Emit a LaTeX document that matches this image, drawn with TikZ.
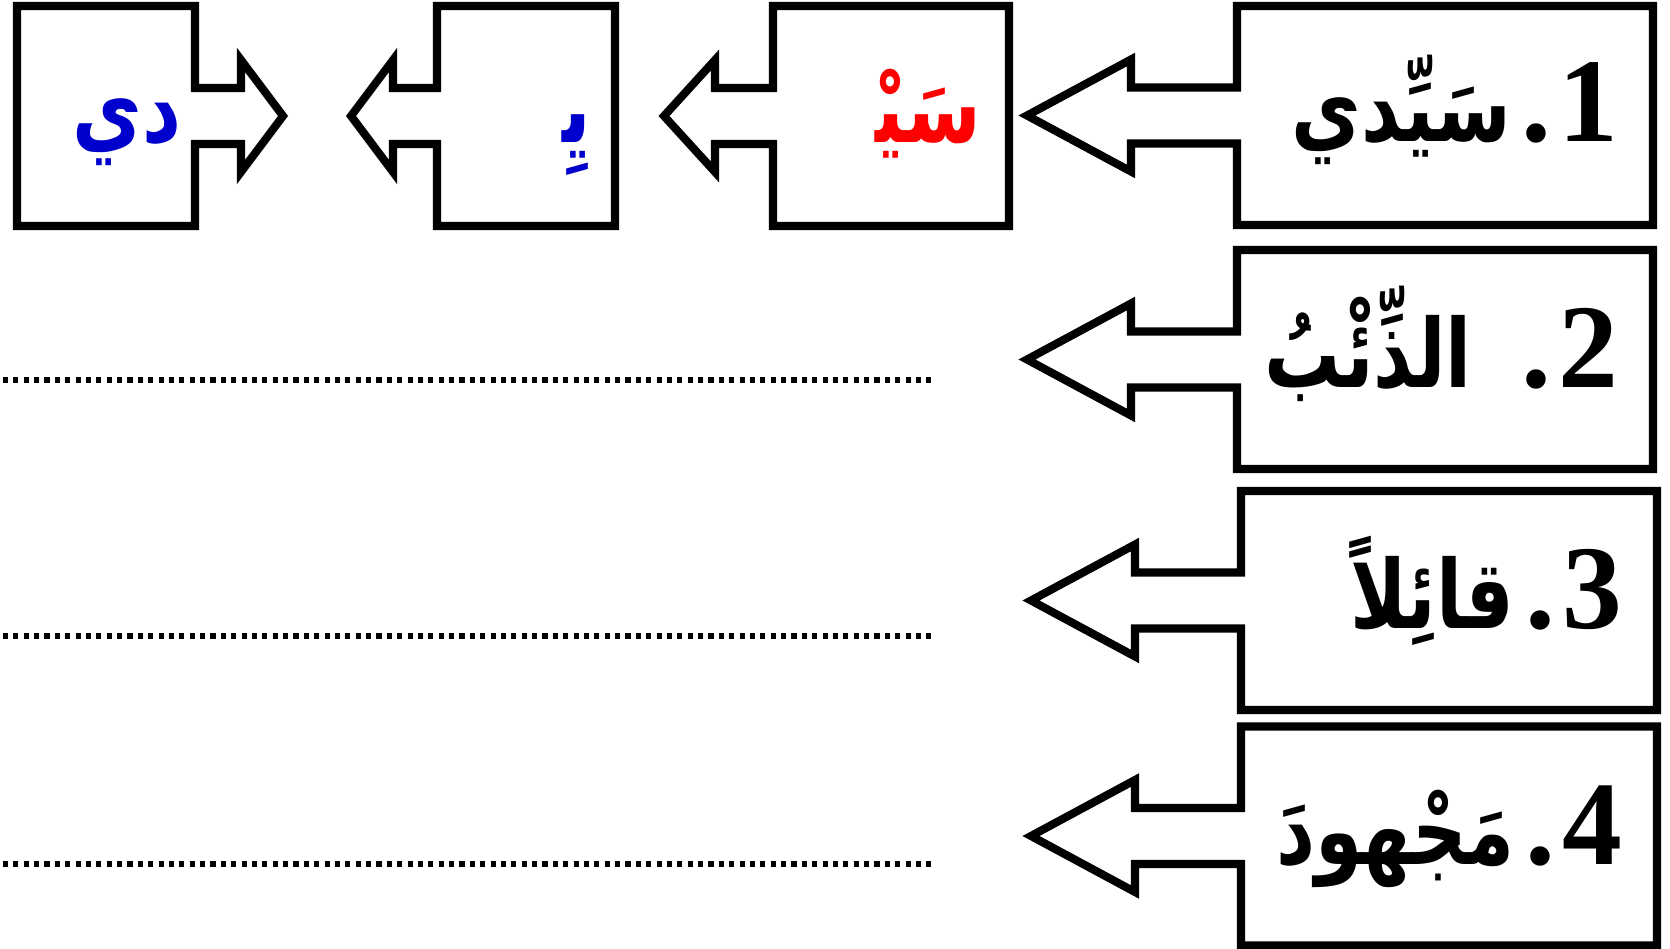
\documentclass[tikz,border=0pt]{standalone}
\usepackage{fontspec}
\setmainfont{Liberation Serif}[BoldFont={Liberation Serif Bold}]
\newfontfamily\arabicfont[Script=Arabic, FakeStretch=0.8]{DejaVu Sans}
\TeXXeTstate=1
\definecolor{wordred}{RGB}{255,0,0}
\definecolor{wordblue}{RGB}{0,0,204}
\newcommand{\arabicword}{\fontsize{27}{32}\arabicfont\bfseries}
\tikzset{
  word/.style={anchor=base east, inner sep=0pt, font=\fontsize{34}{40}\selectfont\bfseries},
  part/.style={anchor=base east, inner sep=0pt, font=\arabicword},
  answer/.style={line width=1.6pt, dash pattern=on 1.45pt off 1.5pt}
}
\begin{document}
\begin{tikzpicture}[x=0.01cm, y=-0.01cm, line width=2.3pt, line join=miter]
\useasboundingbox (0,0) rectangle (1670,949);

% the four word boxes, arrow to the left
\foreach \yc/\xl/\xt in {115.5/1237/1027, 359.5/1237/1027, 600.5/1241/1031, 836/1241/1031}
{
    \draw(\xl,\yc-28)--(\xl,\yc-109.5)--(\xl+416,\yc-109.5)--(\xl+416,\yc+109.5)--(\xl,\yc+109.5)--(\xl,\yc+28)
        --(\xt+104,\yc+28)--(\xt+104,\yc+56)--(\xt,\yc)--(\xt+104,\yc-56)--(\xt+104,\yc-28)--cycle;
}
\node[word] (w1) at (1622,142) {\beginR 1\kern2pt.\kern3pt{\arabicword سَيِّدي}\endR};
\node[word] (w2) at (1622,387) {\beginR 2\kern2pt.\kern14pt{\arabicword الذِّئْبُ}\endR};
\node[word] (w3) at (1626,628) {\beginR 3\kern2pt.\kern3pt{\arabicword قائِلاً}\endR};
\node[word] (w4) at (1626,864) {\beginR 4\kern2pt.\kern3pt{\arabicword مَجْهودَ}\endR};

% the word cut into parts
\draw(773,88)--(773,6)--(1009,6)--(1009,226)--(773,226)--(773,144)--(715,144)--(715,172)--(664,116)--(715,60)--(715,88)--cycle;
\draw(437,88)--(437,6)--(615,6)--(615,226)--(437,226)--(437,144)--(393,144)--(393,172)--(351,116)--(393,60)--(393,88)--cycle;
\draw(195,88)--(195,6)--(17,6)--(17,226)--(195,226)--(195,144)--(241,144)--(241,172)--(283,116)--(241,60)--(241,88)--cycle;
\node[part, wordred] (p1) at (985,143) {\beginR سَيْ‍\endR};
\node[part, wordblue] (p2) at (595,143) {\beginR يِ‍\endR};
\node[part, wordblue] (p3) at (185,143) {\beginR دي\endR};

% lines for the answers
\foreach \y in {380,636,864}
{
    \draw[answer](3,\y)--(932,\y);
}
\end{tikzpicture}
\end{document}
